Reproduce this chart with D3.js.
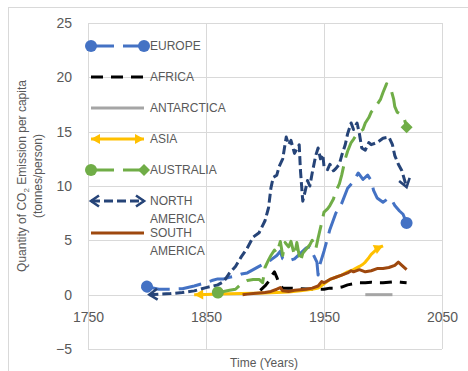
<!DOCTYPE html>
<html>
<head>
<meta charset="utf-8">
<script src="https://cdn.jsdelivr.net/npm/d3@7"></script>
<style>
  html, body { margin: 0; padding: 0; background: #fff; }
  svg { display: block; font-family: "Liberation Sans", Arial, sans-serif; }
</style>
</head>
<body>
<svg id="chart" width="468" height="371"></svg>
<script>
// Per-capita CO2 emissions by continent (tonnes/person)
const xTicks = [1750, 1850, 1950, 2050];
const yTicks = [-5, 0, 5, 10, 15, 20, 25];

const europeYears  = [1800,1810,1820,1830,1840,1850,1855,1860,1865,1870,1875,1880,1885,1890,1895,1900,1905,1910,1913,1915,1920,1925,1930,1935,1938,1940,1944,1945,1946,1950,1955,1960,1965,1970,1975,1979,1983,1987,1990,1992,1995,2000,2005,2008,2010,2014,2017,2020];
const europeValues = [0.74,0.5,0.5,0.55,0.8,1.1,1.3,1.45,1.45,1.6,1.7,1.9,2.0,2.3,2.6,2.9,3.2,3.6,4.0,3.3,3.1,3.3,3.8,4.3,4.4,3.9,3.0,1.8,2.6,4.0,6.0,7.5,8.4,9.8,10.4,11.2,10.6,11.0,10.5,9.6,8.9,8.5,8.9,8.6,8.2,7.7,7.4,6.6];

const africaYears  = [1896,1900,1903,1906,1908,1910,1912,1915,1920,1930,1940,1950,1955,1960,1965,1970,1975,1980,1985,1990,1995,2000,2005,2010,2015,2020];
const africaValues = [0.4,0.8,1.2,1.8,2.1,1.6,1.0,0.6,0.6,0.55,0.5,0.5,0.6,0.6,0.7,0.9,1.0,1.1,1.1,1.15,1.1,1.1,1.15,1.2,1.15,1.1];

const antarcticaYears  = [1985,1990,1995,2000,2005,2008];
const antarcticaValues = [0,0,0,0,0,0];

const asiaYears  = [1840,1850,1860,1870,1880,1890,1900,1910,1920,1930,1940,1945,1950,1955,1960,1965,1970,1975,1980,1983,1985,1988,1990,1993,1996,2000];
const asiaValues = [0.0,0.02,0.05,0.08,0.1,0.12,0.15,0.2,0.25,0.35,0.5,0.6,1.0,1.4,1.6,1.8,2.1,2.3,2.6,2.8,3.0,3.4,3.7,4.0,4.3,4.5];

const australiaYears  = [1860,1865,1870,1875,1880,1885,1890,1895,1898,1900,1903,1905,1908,1910,1913,1915,1917,1920,1922,1925,1927,1930,1932,1935,1938,1940,1943,1945,1948,1950,1953,1955,1958,1960,1963,1965,1968,1970,1973,1975,1978,1980,1983,1985,1988,1990,1995,1998,2000,2003,2005,2007,2009,2010,2012,2015,2018,2020];
const australiaValues = [0.2,0.3,0.4,0.5,1.0,1.3,1.4,1.4,1.1,2.5,3.2,3.6,4.1,3.8,4.9,3.6,4.8,4.4,4.9,3.6,4.8,3.0,3.8,4.2,4.6,5.0,4.2,5.2,6.6,7.6,7.9,8.2,8.8,9.5,10.2,11.0,12.5,13.2,14.0,14.3,14.8,15.0,15.2,15.8,16.3,16.8,17.5,18.0,18.6,19.4,19.3,18.8,18.0,17.3,16.8,16.6,16.2,15.4];

const northAmericaYears  = [1802,1810,1820,1830,1840,1850,1860,1865,1870,1875,1880,1885,1890,1895,1900,1903,1905,1907,1910,1912,1915,1918,1920,1922,1925,1927,1929,1930,1932,1934,1936,1938,1940,1943,1945,1947,1949,1950,1953,1955,1958,1960,1963,1965,1968,1970,1973,1975,1978,1980,1982,1985,1988,1990,1995,2000,2005,2008,2010,2013,2016,2020];
const northAmericaValues = [0.0,0.05,0.1,0.2,0.35,0.65,0.9,1.2,2.0,2.6,3.5,4.3,5.3,5.7,6.8,8.0,9.8,10.8,11.0,11.8,12.5,14.5,13.8,14.2,13.0,13.4,13.8,11.5,8.6,9.5,10.5,10.0,11.2,12.8,13.5,12.5,12.9,11.8,11.5,12.0,11.4,11.6,12.0,12.8,13.8,14.8,15.8,15.2,15.8,14.8,13.5,13.3,14.0,13.8,14.0,14.4,14.5,13.8,12.8,12.0,11.4,9.9];

const southAmericaYears  = [1881,1885,1890,1895,1900,1905,1910,1913,1915,1920,1925,1930,1935,1940,1945,1948,1950,1955,1960,1965,1970,1973,1975,1980,1985,1990,1995,2000,2005,2010,2013,2016,2020];
const southAmericaValues = [0.0,0.05,0.1,0.15,0.2,0.3,0.5,0.65,0.35,0.3,0.4,0.45,0.5,0.6,0.8,1.2,1.1,1.4,1.6,1.8,2.0,2.2,2.1,2.3,2.1,2.2,2.4,2.4,2.5,2.7,3.0,2.7,2.3];

const seriesNames = ["EUROPE", "AFRICA", "ANTARCTICA", "ASIA", "AUSTRALIA", "NORTH AMERICA", "SOUTH AMERICA"];

// Series table built from the arrays above, with line styling
const series = [
  { name: seriesNames[0], years: europeYears, values: europeValues, color: "#4472C4", dash: "23,9",  start: "circle", end: "circle" },
  { name: seriesNames[1], years: africaYears, values: africaValues, color: "#000000", dash: "12,8",  start: null, end: null },
  { name: seriesNames[2], years: antarcticaYears, values: antarcticaValues, color: "#A5A5A5", dash: null, start: null, end: null },
  { name: seriesNames[3], years: asiaYears, values: asiaValues, color: "#FFC000", dash: null, start: "arrow", end: "arrow" },
  { name: seriesNames[4], years: australiaYears, values: australiaValues, color: "#70AD47", dash: "23,9", start: "circle", end: "diamond" },
  { name: seriesNames[5], years: northAmericaYears, values: northAmericaValues, color: "#264478", dash: "9,4", start: "open", end: "open" },
  { name: seriesNames[6], years: southAmericaYears, values: southAmericaValues, color: "#9E480E", dash: null, start: null, end: null }
];

const svg = d3.select("#chart");
const textColor = "#595959";
const gridColor = "#D9D9D9";

// chart area border (extends past the window on the right and bottom)
svg.append("rect")
  .attr("x", 8.5).attr("y", 7.5)
  .attr("width", 480).attr("height", 380)
  .attr("fill", "none").attr("stroke", gridColor).attr("stroke-width", 1);

const x = d3.scaleLinear().domain([1750, 2050]).range([88, 442]);
const y = d3.scaleLinear().domain([-5, 25]).range([349, 23]);

// gridlines
const grid = svg.append("g");
grid.selectAll("line.h").data(yTicks).join("line")
  .attr("x1", x(1750)).attr("x2", x(2050))
  .attr("y1", d => Math.round(y(d)) + 0.5).attr("y2", d => Math.round(y(d)) + 0.5)
  .attr("stroke", gridColor).attr("stroke-width", 1);
grid.selectAll("line.v").data(xTicks).join("line")
  .attr("y1", y(25)).attr("y2", y(-5))
  .attr("x1", d => Math.round(x(d)) + 0.5).attr("x2", d => Math.round(x(d)) + 0.5)
  .attr("stroke", gridColor).attr("stroke-width", 1);

// axes (labels only; lines come from the grid)
const yAxis = svg.append("g")
  .attr("transform", `translate(${x(1750)},0)`)
  .call(d3.axisLeft(y).tickValues(yTicks).tickSize(0).tickPadding(16).tickFormat(d3.format("d")));
const xAxis = svg.append("g")
  .attr("transform", `translate(0,${y(0)})`)
  .call(d3.axisBottom(x).tickValues(xTicks).tickSize(0).tickPadding(17).tickFormat(d3.format("d")));
[yAxis, xAxis].forEach(g => {
  g.select(".domain").remove();
  g.selectAll("text").attr("fill", textColor).attr("font-size", 14)
    .attr("font-family", "Liberation Sans, Arial, sans-serif");
});

// axis titles
svg.append("text")
  .attr("x", 264).attr("y", 367)
  .attr("text-anchor", "middle").attr("font-size", 12).attr("fill", textColor)
  .text("Time (Years)");

const yTitle = svg.append("text")
  .attr("transform", "translate(26,176) rotate(-90)")
  .attr("text-anchor", "middle").attr("font-size", 12).attr("fill", textColor);
yTitle.append("tspan").text("Quantity of CO");
yTitle.append("tspan").attr("font-size", 8).attr("dy", 3).text("2");
yTitle.append("tspan").attr("dy", -3).text(" Emission per capita");
svg.append("text")
  .attr("transform", "translate(42,176) rotate(-90)")
  .attr("text-anchor", "middle").attr("font-size", 12).attr("fill", textColor)
  .text("(tonnes/person)");

// end markers
const defs = svg.append("defs");
series.forEach((s, i) => {
  const kinds = new Set([s.start, s.end].filter(Boolean));
  kinds.forEach(kind => {
    const m = defs.append("marker")
      .attr("id", `m-${kind}-${i}`)
      .attr("markerUnits", "userSpaceOnUse")
      .attr("orient", "auto-start-reverse")
      .attr("overflow", "visible")
      .attr("markerWidth", 14).attr("markerHeight", 14)
      .attr("refX", 0).attr("refY", 0)
      .attr("viewBox", "-7 -7 14 14");
    if (kind === "circle") {
      m.append("circle").attr("r", 6).attr("fill", s.color);
    } else if (kind === "diamond") {
      m.attr("orient", "0");
      m.append("path").attr("d", "M0,-6 L6,0 L0,6 L-6,0 Z").attr("fill", s.color);
    } else if (kind === "arrow") {
      m.append("path").attr("d", "M0,0 L-9,-5 L-9,5 Z").attr("fill", s.color);
    } else if (kind === "open") {
      m.append("path").attr("d", "M-8,-5.5 L0,0 L-8,5.5").attr("fill", "none")
        .attr("stroke", s.color).attr("stroke-width", 2.6);
    }
  });
});

// series lines
const line = d3.line().x(d => x(d[0])).y(d => y(d[1]));
const linesG = svg.append("g");
series.forEach((s, i) => {
  const pts = s.years.map((yr, k) => [yr, s.values[k]]);
  const p = linesG.append("path")
    .attr("d", line(pts))
    .attr("fill", "none")
    .attr("stroke", s.color)
    .attr("stroke-width", 3)
    .attr("stroke-linejoin", "round");
  if (s.dash) p.attr("stroke-dasharray", s.dash);
  if (s.start) p.attr("marker-start", `url(#m-${s.start}-${i})`);
  if (s.end) p.attr("marker-end", `url(#m-${s.end}-${i})`);
});

// legend inside the plot, top-left
const legendRows = [46, 77, 108, 139, 170, 201, 233];
const legend = svg.append("g");
series.forEach((s, i) => {
  const ly = legendRows[i];
  const p = legend.append("path")
    .attr("d", `M91,${ly} L144,${ly}`)
    .attr("fill", "none").attr("stroke", s.color).attr("stroke-width", 3);
  if (s.dash) p.attr("stroke-dasharray", s.dash);
  if (s.start) p.attr("marker-start", `url(#m-${s.start}-${i})`);
  if (s.end) p.attr("marker-end", `url(#m-${s.end}-${i})`);
  const words = s.name.split(" ");
  const t = legend.append("text")
    .attr("x", 150).attr("y", ly)
    .attr("dy", "0.36em")
    .attr("font-size", 12).attr("fill", textColor);
  words.forEach((w, k) => {
    t.append("tspan").attr("x", 150).attr("dy", k === 0 ? "0.36em" : 18).text(w);
  });
  t.attr("dy", null);
});
</script>
</body>
</html>
